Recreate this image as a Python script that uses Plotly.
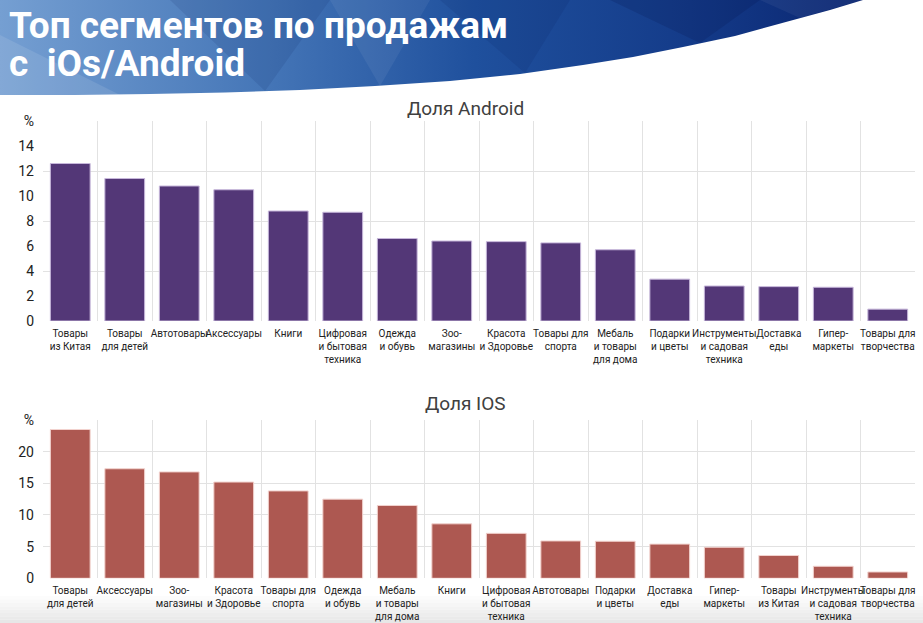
import plotly.graph_objects as go

W, H = 923, 623

# ---------------- data ----------------
android_categories = [
    "Товары<br>из Китая", "Товары<br>для детей", "Автотовары", "Аксессуары", "Книги",
    "Цифровая<br>и бытовая<br>техника", "Одежда<br>и обувь", "Зоо-<br>магазины",
    "Красота<br>и Здоровье", "Товары для<br>спорта", "Мебаль<br>и товары<br>для дома",
    "Подарки<br>и цветы", "Инструменты<br>и садовая<br>техника", "Доставка<br>еды",
    "Гипер-<br>маркеты", "Товары для<br>творчества",
]
android_values = [12.6, 11.4, 10.8, 10.5, 8.8, 8.7, 6.6, 6.4, 6.35, 6.25, 5.7, 3.35, 2.8, 2.75, 2.7, 0.95]

ios_categories = [
    "Товары<br>для детей", "Аксессуары", "Зоо-<br>магазины", "Красота<br>и Здоровье",
    "Товары для<br>спорта", "Одежда<br>и обувь", "Мебаль<br>и товары<br>для дома", "Книги",
    "Цифровая<br>и бытовая<br>техника", "Автотовары", "Подарки<br>и цветы", "Доставка<br>еды",
    "Гипер-<br>маркеты", "Товары<br>из Китая", "Инструменты<br>и садовая<br>техника",
    "Товары для<br>творчества",
]
ios_values = [23.5, 17.3, 16.8, 15.2, 13.8, 12.5, 11.5, 8.6, 7.1, 5.9, 5.85, 5.4, 4.9, 3.6, 1.9, 1.0]

android_label_ticks = [0, 2, 4, 6, 8, 10, 12, 14, 16]
android_label_text = ["0", "2", "4", "6", "8", "10", "12", "14", "%"]
android_grid_ticks = [0, 4, 8, 12, 16]
ios_ticks = [0, 5, 10, 15, 20, 25]
ios_tick_text = ["0", "5", "10", "15", "20", "%"]

title_line1 = "Топ сегментов по продажам"
title_line2 = "с\u00a0\u00a0iOs/Android"
android_title = "Доля Android"
ios_title = "Доля IOS"

# ---------------- style ----------------
PURPLE = "#533777"
PURPLE_EDGE = "#c6b6da"
RED = "#ad5851"
RED_EDGE = "#f2d2ce"
GRID = "#e2e2e2"
FONT = "Roboto"


def px_x(x):
    return x / W


def px_y(y):
    return 1 - y / H


fig = go.Figure()

# decoration banner (pixel coordinate overlay axes)
banner_x = [0, 863, 830, 783, 735, 683, 633, 583, 520, 450, 375, 300, 225, 150, 75, 0, 0]
banner_y = [0, 0, 10, 23, 36, 47, 57, 65, 74, 81, 86, 90, 92.5, 94, 95, 95, 0]
fig.add_trace(go.Scatter(
    x=banner_x, y=banner_y, xaxis="x3", yaxis="y3", mode="lines",
    line=dict(width=0), fill="toself",
    fillgradient=dict(type="horizontal", colorscale=[
        [0, "#759fd2"], [0.3, "#4677b8"], [0.55, "#1f509d"], [0.8, "#143b89"], [1, "#0a2570"]]),
    hoverinfo="skip", showlegend=False,
))
facets = [
    ([0, 120, 0], [35, 95, 95], "rgba(255,255,255,0.10)"),
    ([170, 330, 265], [0, 0, 91], "rgba(0,20,80,0.10)"),
    ([330, 430, 380], [0, 0, 86], "rgba(255,255,255,0.06)"),
    ([440, 570, 525], [0, 0, 73], "rgba(0,20,80,0.10)"),
    ([610, 760, 700], [0, 0, 43], "rgba(0,10,60,0.14)"),
    ([760, 863, 800], [0, 0, 18], "rgba(255,255,255,0.05)"),
]
for fx, fy, fc in facets:
    fig.add_trace(go.Scatter(
        x=fx + [fx[0]], y=fy + [fy[0]], xaxis="x3", yaxis="y3", mode="lines",
        line=dict(width=0), fill="toself", fillcolor=fc, hoverinfo="skip", showlegend=False,
    ))

# Android bars
fig.add_trace(go.Bar(
    x=android_categories, y=android_values, xaxis="x", yaxis="y",
    marker=dict(color=PURPLE, line=dict(color=PURPLE_EDGE, width=1)),
    showlegend=False, hoverinfo="x+y",
))
# invisible trace to carry the label axis of the Android chart
fig.add_trace(go.Scatter(
    x=[android_categories[0]], y=[0], xaxis="x", yaxis="y4", mode="markers",
    marker=dict(opacity=0), hoverinfo="skip", showlegend=False,
))
# IOS bars
fig.add_trace(go.Bar(
    x=ios_categories, y=ios_values, xaxis="x2", yaxis="y2",
    marker=dict(color=RED, line=dict(color=RED_EDGE, width=1)),
    showlegend=False, hoverinfo="x+y",
))

xdom = [px_x(43), px_x(915)]
tickfont_x = dict(family=FONT, size=10, color="#222222")
tickfont_y = dict(family=FONT, size=14, color="#222222")

common_x = dict(type="category", categoryorder="array", tickson="boundaries", showgrid=True,
                gridcolor=GRID, gridwidth=1, ticks="", tickfont=tickfont_x, showline=False,
                zeroline=False, fixedrange=True, ticklabelstandoff=5, tickangle=0,
                automargin=False, range=[-0.5, len(android_categories) - 0.5])

fig.update_layout(
    width=W, height=H, margin=dict(l=0, r=0, t=0, b=0, autoexpand=False),
    paper_bgcolor="white", plot_bgcolor="rgba(0,0,0,0)",
    bargap=0.27,
    xaxis=dict(domain=xdom, anchor="y", categoryarray=android_categories, **common_x),
    yaxis=dict(domain=[px_y(321), px_y(121)], anchor="x", range=[0, 16],
               tickvals=android_grid_ticks, showticklabels=False, showgrid=True,
               gridcolor=GRID, gridwidth=1, zeroline=False, fixedrange=True, automargin=False),
    yaxis4=dict(overlaying="y", anchor="x", side="left", range=[0, 16],
                tickvals=android_label_ticks, ticktext=android_label_text,
                showgrid=False, zeroline=False, tickfont=tickfont_y, ticks="",
                ticklabelstandoff=8, fixedrange=True, automargin=False),
    xaxis2=dict(domain=xdom, anchor="y2", categoryarray=ios_categories, **common_x),
    yaxis2=dict(domain=[px_y(578.3), px_y(420)], anchor="x2", range=[0, 25],
                tickvals=ios_ticks, ticktext=ios_tick_text, showgrid=True,
                gridcolor=GRID, gridwidth=1, zeroline=False, tickfont=tickfont_y,
                ticks="", ticklabelstandoff=8, fixedrange=True, automargin=False),
    xaxis3=dict(domain=[0, 1], anchor="y3", range=[0, W], visible=False, fixedrange=True),
    yaxis3=dict(domain=[0, 1], anchor="x3", range=[H, 0], visible=False, fixedrange=True),
)

# faint grey band at the bottom edge
for i in range(8):
    y0 = 596 + i * 27 / 8
    shade = 252 - i * 3
    fig.add_shape(type="rect", xref="paper", yref="paper", x0=0, x1=1,
                  y0=px_y(y0 + 27 / 8), y1=px_y(y0), line=dict(width=0),
                  fillcolor=f"rgb({shade},{shade},{shade})", layer="below")

fig.add_annotation(text=title_line1, xref="paper", yref="paper", x=px_x(7), y=px_y(25),
                   xanchor="left", yanchor="middle", showarrow=False,
                   font=dict(family=FONT, size=37, color="white", weight="bold"))
fig.add_annotation(text=title_line2, xref="paper", yref="paper", x=px_x(7), y=px_y(63),
                   xanchor="left", yanchor="middle", showarrow=False,
                   font=dict(family=FONT, size=37, color="white", weight="bold"))
fig.add_annotation(text=android_title, xref="paper", yref="paper", x=px_x(465), y=px_y(108),
                   xanchor="center", yanchor="middle", showarrow=False,
                   font=dict(family=FONT, size=19, color="#404040"))
fig.add_annotation(text=ios_title, xref="paper", yref="paper", x=px_x(465), y=px_y(403),
                   xanchor="center", yanchor="middle", showarrow=False,
                   font=dict(family=FONT, size=19, color="#404040"))

fig.write_html("out.html")
